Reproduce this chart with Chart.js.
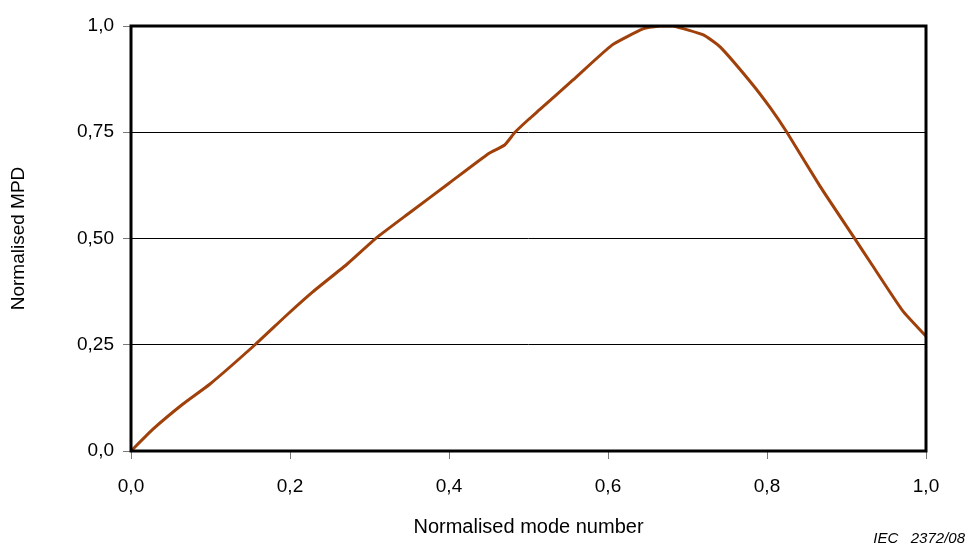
<!DOCTYPE html>
<html>
<head>
<meta charset="utf-8">
<script src="https://cdn.jsdelivr.net/npm/chart.js@4.4.1/dist/chart.umd.min.js"></script>
<style>
  html, body { margin: 0; padding: 0; background: #fff; }
  #wrap { width: 969px; height: 547px; position: relative; }
</style>
</head>
<body>
<div id="wrap"><canvas id="mpdChart"></canvas></div>
<script>
// Data
const modeNumber = [0, 0.028, 0.065, 0.099, 0.156, 0.196, 0.229, 0.272, 0.309, 0.35, 0.40, 0.45, 0.47, 0.483, 0.5, 0.514, 0.556, 0.605, 0.644, 0.665, 0.682, 0.72, 0.741, 0.779, 0.804, 0.825, 0.867, 0.911, 0.93, 0.971, 1.0];
const normMPD    = [0, 0.052, 0.11, 0.157, 0.25, 0.32, 0.375, 0.44, 0.502, 0.56, 0.63, 0.70, 0.72, 0.75, 0.78, 0.803, 0.873, 0.955, 0.993, 1.0, 1.0, 0.979, 0.951, 0.869, 0.808, 0.75, 0.622, 0.498, 0.444, 0.329, 0.27];
const xTickLabels = ['0,0', '0,2', '0,4', '0,6', '0,8', '1,0'];
const yTickLabels = ['0,0', '0,25', '0,50', '0,75', '1,0'];

const FONT = 'Arial, "Liberation Sans", sans-serif';

const points = modeNumber.map((x, i) => ({ x: x, y: normMPD[i] }));

// thick frame round the plot + the IEC note
const framePlugin = {
    id: 'frame',
    afterDraw(chart) {
        const { ctx, chartArea: a } = chart;
        ctx.save();
        ctx.strokeStyle = '#000';
        ctx.lineWidth = 3;
        ctx.strokeRect(a.left, a.top, a.right - a.left, a.bottom - a.top);
        ctx.fillStyle = '#000';
        ctx.font = 'italic 15px ' + FONT;
        ctx.textAlign = 'right';
        ctx.textBaseline = 'middle';
        ctx.fillText('IEC   2372/08', 965, 539);
        ctx.restore();
    }
};

const ctx = document.getElementById('mpdChart').getContext('2d');
const mpdChart = new Chart(ctx, {
    type: 'line',
    data: {
        datasets: [{
            label: 'Normalised MPD',
            data: points,
            borderColor: '#A0400A',
            borderWidth: 3,
            pointRadius: 0,
            tension: 0.15,
            fill: false
        }]
    },
    options: {
        responsive: true,
        maintainAspectRatio: false,
        animation: false,
        layout: { padding: { top: 26, right: 43, left: 0, bottom: 0 } },
        plugins: {
            legend: { display: false },
            tooltip: { enabled: false }
        },
        scales: {
            x: {
                type: 'linear',
                min: 0,
                max: 1,
                afterBuildTicks(axis) {
                    axis.ticks = xTickLabels.map((t, i) => ({ value: i * 0.2 }));
                },
                afterFit(axis) { axis.height = 96; },
                grid: { drawOnChartArea: false, color: '#777', tickLength: 8, tickColor: '#777' },
                border: { display: false },
                ticks: {
                    color: '#000',
                    font: { family: FONT, size: 19 },
                    padding: 16,
                    maxRotation: 0,
                    callback: (v, i) => xTickLabels[i]
                },
                title: {
                    display: true,
                    text: 'Normalised mode number',
                    color: '#000',
                    font: { family: FONT, size: 20 },
                    padding: { top: 0, bottom: 8 }
                }
            },
            y: {
                min: 0,
                max: 1,
                afterBuildTicks(axis) {
                    axis.ticks = yTickLabels.map((t, i) => ({ value: i * 0.25 }));
                },
                afterFit(axis) { axis.width = 131; },
                grid: { color: '#000', lineWidth: 1, tickLength: 8, tickColor: '#777' },
                border: { display: false },
                ticks: {
                    color: '#000',
                    font: { family: FONT, size: 19 },
                    padding: 9,
                    callback: (v, i) => yTickLabels[i]
                },
                title: {
                    display: true,
                    text: 'Normalised MPD',
                    color: '#000',
                    font: { family: FONT, size: 19 },
                    padding: { top: 7, bottom: 0 }
                }
            }
        }
    },
    plugins: [framePlugin]
});
</script>
</body>
</html>
